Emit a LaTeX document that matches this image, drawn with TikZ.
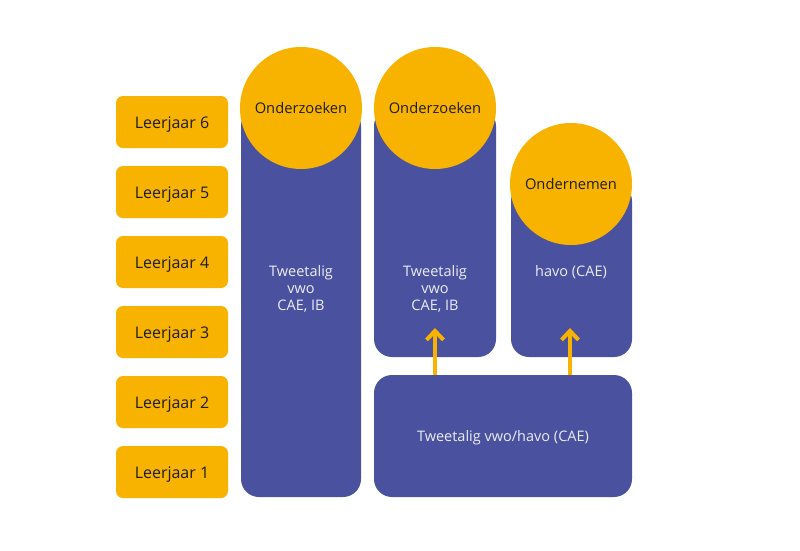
\documentclass[tikz,border=0pt]{standalone}
\usepackage{fontspec}
\setmainfont{Open Sans}
\usetikzlibrary{arrows.meta}
\definecolor{org}{HTML}{F8B300}
\definecolor{blu}{HTML}{4A529F}
\definecolor{txt}{HTML}{1E1E1E}
\definecolor{wtxt}{HTML}{ECECF6}
\begin{document}
\begin{tikzpicture}[x=1pt,y=-1pt,
  year/.style={draw=none,fill=org,rounded corners=7pt,minimum width=112pt,minimum height=52pt,inner sep=0pt,text=txt,font=\fontsize{16}{18}\selectfont,text height=13.4pt,text depth=0pt},
  col/.style={draw=none,fill=blu,rounded corners=18pt,inner sep=0pt},
  circ/.style={circle,fill=org,minimum size=122pt,inner sep=0pt,text=txt,font=\fontsize{14.7}{17}\selectfont,text height=10.5pt,text depth=0pt},
  lbl/.style={text=wtxt,align=center,font=\fontsize{14.5}{17}\selectfont,inner sep=0pt},
  arr/.style={draw=org,line width=4pt,-{Straight Barb[length=9pt,width=17pt,line width=4pt]}}
]
\useasboundingbox (0,0) rectangle (800,550);
\fill[white] (0,0) rectangle (800,550);

\node[year] (y6) at (172,122) {Leerjaar 6};
\node[year] (y5) at (172,192) {Leerjaar 5};
\node[year] (y4) at (172,262) {Leerjaar 4};
\node[year] (y3) at (172,332) {Leerjaar 3};
\node[year] (y2) at (172,402) {Leerjaar 2};
\node[year] (y1) at (172,472) {Leerjaar 1};

\node[col,minimum width=120pt,minimum height=389pt] (c1) at (301,302.5) {};
\node[col,minimum width=122pt,minimum height=249pt] (c2) at (435,232.5) {};
\node[col,minimum width=121pt,minimum height=174pt] (c3) at (571.5,270) {};

\coordinate (t2) at (435,328);
\coordinate (t3) at (570,328);
\draw[arr] (435,377) -- (t2);
\draw[arr] (570,377) -- (t3);

\node[col,minimum width=258pt,minimum height=122pt] (b) at (503,436) {};

\node[circ] (o1) at (301,108) {Onderzoeken};
\node[circ] (o2) at (435,108) {Onderzoeken};
\node[circ] (o3) at (571,184) {Ondernemen};

\node[lbl] (l1) at (301,289) {Tweetalig\\vwo\\CAE, IB};
\node[lbl] (l2) at (435,289) {Tweetalig\\vwo\\CAE, IB};
\node[lbl] (l3) at (571,272) {havo (CAE)};
\node[lbl] (lb) at (503,438) {Tweetalig vwo/havo (CAE)};
\end{tikzpicture}
\end{document}
